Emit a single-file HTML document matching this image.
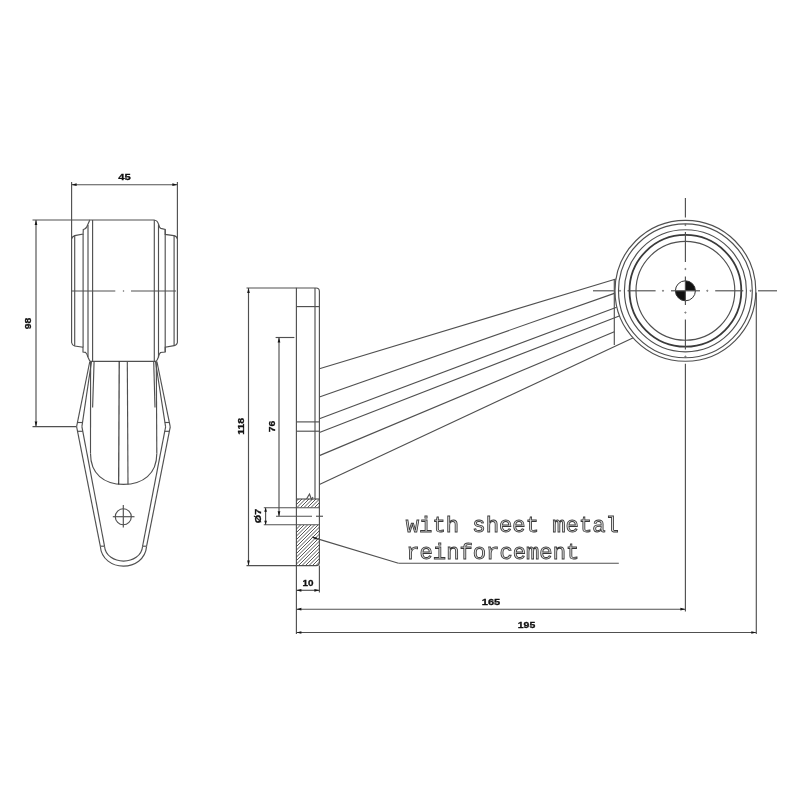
<!DOCTYPE html>
<html><head><meta charset="utf-8"><style>html,body{margin:0;padding:0;background:#fff;width:800px;height:800px;overflow:hidden}svg{display:block;will-change:transform}</style></head>
<body><svg width="800" height="800" viewBox="0 0 800 800"><rect width="800" height="800" fill="#fff"/><line x1="71.6" y1="182" x2="71.6" y2="239" stroke="#505050" stroke-width="1.15"/>
<line x1="177.4" y1="182" x2="177.4" y2="239" stroke="#505050" stroke-width="1.15"/>
<line x1="71.6" y1="184.7" x2="177.4" y2="184.7" stroke="#505050" stroke-width="1.15"/>
<polygon points="71.60,184.70 76.60,183.35 76.60,186.05" fill="#151515"/>
<polygon points="177.40,184.70 172.40,186.05 172.40,183.35" fill="#151515"/>
<line x1="32.5" y1="220" x2="90" y2="220" stroke="#505050" stroke-width="1.15"/>
<line x1="32.5" y1="426.6" x2="76.5" y2="426.6" stroke="#505050" stroke-width="1.15"/>
<line x1="36" y1="220" x2="36" y2="426.6" stroke="#505050" stroke-width="1.15"/>
<polygon points="36.00,220.00 37.35,225.00 34.65,225.00" fill="#151515"/>
<polygon points="36.00,426.60 34.65,421.60 37.35,421.60" fill="#151515"/>
<line x1="89.7" y1="220" x2="154.7" y2="220" stroke="#505050" stroke-width="1.15"/>
<line x1="89.9" y1="361.3" x2="156" y2="361.3" stroke="#505050" stroke-width="1.15"/>
<path d="M89.7,220.3 L87.6,225 Q86.2,229 83.3,229.5 L83.1,234 L74.7,235.6 Q72,236.5 71.6,239 L71.6,342.5 Q72,345.3 74.6,346 L83,347.3 L83,352 L85.5,352.4 Q87.2,354 87.9,357 L89.9,361.3" stroke="#505050" stroke-width="1.15" fill="none"/>
<path d="M154.7,220.3 Q157.5,220.6 158.6,224.4 Q159.5,228 160.8,228.4 L165.2,229.4 L165.2,234.4 L173.9,235.6 Q176.8,236.2 177.4,239 L177.4,342.5 Q176.8,345.2 174.2,345.6 L165.2,347.2 L165.2,352 L160.5,352.5 Q159,354 158.2,357.5 Q157.2,360.6 156,361.3" stroke="#505050" stroke-width="1.15" fill="none"/>
<line x1="74.7" y1="235.6" x2="74.7" y2="346" stroke="#505050" stroke-width="1.15"/>
<line x1="83.1" y1="234" x2="83.1" y2="347.3" stroke="#505050" stroke-width="1.15"/>
<line x1="88" y1="225" x2="88" y2="357" stroke="#505050" stroke-width="1.15"/>
<line x1="92.6" y1="220" x2="92.6" y2="361.3" stroke="#505050" stroke-width="1.15"/>
<line x1="154.3" y1="220" x2="154.3" y2="361.3" stroke="#505050" stroke-width="1.15"/>
<line x1="158.5" y1="224.4" x2="158.5" y2="357.5" stroke="#505050" stroke-width="1.15"/>
<line x1="165.2" y1="229.4" x2="165.2" y2="352" stroke="#505050" stroke-width="1.15"/>
<line x1="174.1" y1="235.6" x2="174.1" y2="345.6" stroke="#505050" stroke-width="1.15"/>
<line x1="71.8" y1="291" x2="115.3" y2="291" stroke="#505050" stroke-width="1.15"/>
<line x1="131" y1="291" x2="176" y2="291" stroke="#505050" stroke-width="1.15"/>
<circle cx="123.5" cy="291" r="0.5" stroke="#505050" stroke-width="0.6" fill="none"/>
<line x1="89.8" y1="361.5" x2="76.6" y2="426.6" stroke="#505050" stroke-width="1.15"/>
<line x1="91.5" y1="361.5" x2="81.9" y2="426.6" stroke="#505050" stroke-width="1.15"/>
<line x1="76.6" y1="426.6" x2="100.3" y2="546.2" stroke="#505050" stroke-width="1.15"/>
<line x1="81.9" y1="426.6" x2="104.5" y2="546.2" stroke="#505050" stroke-width="1.15"/>
<line x1="156.9" y1="361.5" x2="170.25" y2="426.8" stroke="#505050" stroke-width="1.15"/>
<line x1="155.5" y1="361.5" x2="165.6" y2="426.8" stroke="#505050" stroke-width="1.15"/>
<line x1="170.25" y1="426.8" x2="146.6" y2="546.2" stroke="#505050" stroke-width="1.15"/>
<line x1="165.6" y1="426.8" x2="142.6" y2="546.2" stroke="#505050" stroke-width="1.15"/>
<line x1="77.4" y1="422.5" x2="82.7" y2="422.5" stroke="#505050" stroke-width="1.15"/>
<line x1="77.6" y1="431.3" x2="82.8" y2="431.3" stroke="#505050" stroke-width="1.15"/>
<line x1="169.4" y1="422.5" x2="164.8" y2="422.5" stroke="#505050" stroke-width="1.15"/>
<line x1="169.3" y1="431.3" x2="164.7" y2="431.3" stroke="#505050" stroke-width="1.15"/>
<path d="M100.3,546.2 C102.5,572.7 144.2,572.7 146.6,546.4" stroke="#505050" stroke-width="1.15" fill="none"/>
<line x1="100.3" y1="546.2" x2="104.5" y2="546.2" stroke="#505050" stroke-width="1.15"/>
<line x1="142.5" y1="546.2" x2="146.6" y2="546.2" stroke="#505050" stroke-width="1.15"/>
<path d="M104.5,546.2 C106.3,566 140.8,566 142.6,546.2" stroke="#505050" stroke-width="1.15" fill="none"/>
<line x1="90.6" y1="361.3" x2="90.5" y2="453.5" stroke="#505050" stroke-width="1.15"/>
<line x1="94.1" y1="361.3" x2="92.6" y2="407.5" stroke="#505050" stroke-width="1.15"/>
<line x1="156.3" y1="361.3" x2="156.8" y2="453.5" stroke="#505050" stroke-width="1.15"/>
<line x1="153.7" y1="361.3" x2="155" y2="407.5" stroke="#505050" stroke-width="1.15"/>
<path d="M90.5,453.5 C90.5,474 104,484.4 123.5,484.4 C143,484.4 156.8,474 156.8,453.5" stroke="#505050" stroke-width="1.15" fill="none"/>
<line x1="119.2" y1="361.3" x2="118.7" y2="484.4" stroke="#2a2a2a" stroke-width="1.1"/>
<line x1="127.3" y1="361.3" x2="128" y2="484.4" stroke="#505050" stroke-width="1.15"/>
<circle cx="123.3" cy="516.7" r="8" stroke="#505050" stroke-width="1.15" fill="none"/>
<line x1="112.8" y1="516.7" x2="134.5" y2="516.7" stroke="#505050" stroke-width="1.15"/>
<line x1="123.3" y1="505" x2="123.3" y2="527.5" stroke="#505050" stroke-width="1.15"/>
<path d="M296.4,288 L316,288 Q319.4,288 319.4,291.4 L319.4,562.2 Q319.4,565.6 316,565.6 L296.4,565.6 Z" stroke="#505050" stroke-width="1.15" fill="none"/>
<line x1="315" y1="288" x2="315" y2="499" stroke="#505050" stroke-width="1.15"/>
<line x1="296.4" y1="306.6" x2="319.4" y2="306.6" stroke="#505050" stroke-width="1.15"/>
<line x1="296.4" y1="421.9" x2="319.4" y2="421.9" stroke="#505050" stroke-width="1.15"/>
<line x1="296.4" y1="431.2" x2="319.4" y2="431.2" stroke="#505050" stroke-width="1.15"/>
<line x1="296.4" y1="499" x2="319.4" y2="499" stroke="#505050" stroke-width="1.15"/>
<defs><clipPath id="hc"><rect x="296.4" y="499" width="23" height="8.6"/><path d="M296.4,525 L319.4,525 L319.4,562.2 Q319.4,565.6 316,565.6 L296.4,565.6 Z"/></clipPath></defs>
<path d="M180.00,600 L300.00,480 M183.50,600 L303.50,480 M187.00,600 L307.00,480 M190.50,600 L310.50,480 M194.00,600 L314.00,480 M197.50,600 L317.50,480 M201.00,600 L321.00,480 M204.50,600 L324.50,480 M208.00,600 L328.00,480 M211.50,600 L331.50,480 M215.00,600 L335.00,480 M218.50,600 L338.50,480 M222.00,600 L342.00,480 M225.50,600 L345.50,480 M229.00,600 L349.00,480 M232.50,600 L352.50,480 M236.00,600 L356.00,480 M239.50,600 L359.50,480 M243.00,600 L363.00,480 M246.50,600 L366.50,480 M250.00,600 L370.00,480 M253.50,600 L373.50,480 M257.00,600 L377.00,480 M260.50,600 L380.50,480 M264.00,600 L384.00,480 M267.50,600 L387.50,480 M271.00,600 L391.00,480 M274.50,600 L394.50,480 M278.00,600 L398.00,480 M281.50,600 L401.50,480 M285.00,600 L405.00,480 M288.50,600 L408.50,480 M292.00,600 L412.00,480 M295.50,600 L415.50,480 M299.00,600 L419.00,480 M302.50,600 L422.50,480 M306.00,600 L426.00,480 M309.50,600 L429.50,480 M313.00,600 L433.00,480 M316.50,600 L436.50,480 M320.00,600 L440.00,480 M323.50,600 L443.50,480 M327.00,600 L447.00,480 M330.50,600 L450.50,480 M334.00,600 L454.00,480 M337.50,600 L457.50,480 M341.00,600 L461.00,480 M344.50,600 L464.50,480 M348.00,600 L468.00,480 M351.50,600 L471.50,480 M355.00,600 L475.00,480 M358.50,600 L478.50,480 M362.00,600 L482.00,480 M365.50,600 L485.50,480 M369.00,600 L489.00,480 M372.50,600 L492.50,480 M376.00,600 L496.00,480 M379.50,600 L499.50,480 M383.00,600 L503.00,480 M386.50,600 L506.50,480" stroke="#444" stroke-width="0.9" clip-path="url(#hc)"/>
<line x1="263.8" y1="507.7" x2="319.4" y2="507.7" stroke="#505050" stroke-width="1.15"/>
<line x1="263.8" y1="524.7" x2="319.4" y2="524.7" stroke="#505050" stroke-width="1.15"/>
<path d="M306.5,499 L309.5,494 L311.5,499.5 L313,497" stroke="#505050" stroke-width="1.15" fill="none"/>
<line x1="276" y1="516.25" x2="312" y2="516.25" stroke="#505050" stroke-width="1.15"/>
<line x1="316" y1="516.25" x2="323" y2="516.25" stroke="#505050" stroke-width="1.15"/>
<line x1="246.5" y1="288" x2="296.4" y2="288" stroke="#505050" stroke-width="1.15"/>
<line x1="246.5" y1="565.6" x2="296.4" y2="565.6" stroke="#505050" stroke-width="1.15"/>
<line x1="248.5" y1="288" x2="248.5" y2="565.6" stroke="#505050" stroke-width="1.15"/>
<polygon points="248.50,288.00 249.85,293.00 247.15,293.00" fill="#151515"/>
<polygon points="248.50,565.60 247.15,560.60 249.85,560.60" fill="#151515"/>
<line x1="275.6" y1="337.5" x2="294.4" y2="337.5" stroke="#505050" stroke-width="1.15"/>
<line x1="279" y1="337.5" x2="279" y2="516.25" stroke="#505050" stroke-width="1.15"/>
<polygon points="279.00,337.50 280.35,342.50 277.65,342.50" fill="#151515"/>
<polygon points="279.00,516.25 277.65,511.25 280.35,511.25" fill="#151515"/>
<line x1="265.6" y1="507.7" x2="265.6" y2="524.7" stroke="#505050" stroke-width="1.15"/>
<polygon points="265.60,507.70 266.95,511.70 264.25,511.70" fill="#151515"/>
<polygon points="265.60,524.70 264.25,520.70 266.95,520.70" fill="#151515"/>
<line x1="296.4" y1="565.6" x2="296.4" y2="634" stroke="#505050" stroke-width="1.15"/>
<line x1="319.4" y1="565.6" x2="319.4" y2="592.5" stroke="#505050" stroke-width="1.15"/>
<line x1="296.4" y1="590.3" x2="319.4" y2="590.3" stroke="#505050" stroke-width="1.15"/>
<polygon points="296.40,590.30 301.40,588.95 301.40,591.65" fill="#151515"/>
<polygon points="319.40,590.30 314.40,591.65 314.40,588.95" fill="#151515"/>
<line x1="296.4" y1="609.2" x2="685.4" y2="609.2" stroke="#505050" stroke-width="1.15"/>
<polygon points="296.40,609.20 301.40,607.85 301.40,610.55" fill="#151515"/>
<polygon points="685.40,609.20 680.40,610.55 680.40,607.85" fill="#151515"/>
<line x1="685.4" y1="363.8" x2="685.4" y2="611.5" stroke="#505050" stroke-width="1.15"/>
<line x1="296.4" y1="632.5" x2="756.3" y2="632.5" stroke="#505050" stroke-width="1.15"/>
<polygon points="296.40,632.50 301.40,631.15 301.40,633.85" fill="#151515"/>
<polygon points="756.30,632.50 751.30,633.85 751.30,631.15" fill="#151515"/>
<line x1="756.3" y1="292.5" x2="756.3" y2="634" stroke="#505050" stroke-width="1.15"/>
<line x1="319.4" y1="368.7" x2="615.9" y2="279" stroke="#505050" stroke-width="1.15"/>
<line x1="319.4" y1="397" x2="614.3" y2="293.4" stroke="#505050" stroke-width="1.15"/>
<line x1="319.4" y1="418.75" x2="616.6" y2="307.2" stroke="#505050" stroke-width="1.15"/>
<line x1="319.4" y1="432.5" x2="619.2" y2="316" stroke="#505050" stroke-width="1.15"/>
<line x1="319.4" y1="455.6" x2="614.3" y2="331.75" stroke="#505050" stroke-width="1.15"/>
<line x1="319.4" y1="484.4" x2="632.8" y2="338" stroke="#505050" stroke-width="1.15"/>
<line x1="614.3" y1="279" x2="614.3" y2="344.9" stroke="#505050" stroke-width="1.15"/>
<circle cx="685.4" cy="290.8" r="70.4" stroke="#505050" stroke-width="1.15" fill="none"/>
<circle cx="685.4" cy="290.8" r="66.9" stroke="#505050" stroke-width="1.15" fill="none"/>
<circle cx="685.4" cy="290.8" r="61" stroke="#505050" stroke-width="1.15" fill="none"/>
<circle cx="685.4" cy="290.8" r="55.9" stroke="#3a3a3a" stroke-width="1.8" fill="none"/>
<circle cx="685.4" cy="290.8" r="49.4" stroke="#505050" stroke-width="1.15" fill="none"/>
<path d="M685.4,290.8 L685.4,280.8 A10,10 0 0 1 695.4,290.8 Z" fill="#111"/>
<path d="M685.4,290.8 L685.4,300.8 A10,10 0 0 1 675.4,290.8 Z" fill="#111"/>
<circle cx="685.4" cy="290.8" r="10" stroke="#333" stroke-width="1" fill="none"/>
<line x1="593" y1="290.8" x2="613.8" y2="290.8" stroke="#505050" stroke-width="1.15"/>
<line x1="627.5" y1="290.8" x2="655.6" y2="290.8" stroke="#505050" stroke-width="1.15"/>
<line x1="671" y1="290.8" x2="700" y2="290.8" stroke="#505050" stroke-width="1.15"/>
<line x1="715.2" y1="290.8" x2="743.3" y2="290.8" stroke="#505050" stroke-width="1.15"/>
<line x1="758" y1="290.8" x2="777" y2="290.8" stroke="#505050" stroke-width="1.15"/>
<circle cx="620" cy="290.8" r="0.6" stroke="#505050" stroke-width="0.8" fill="none"/>
<circle cx="663" cy="290.8" r="0.6" stroke="#505050" stroke-width="0.8" fill="none"/>
<circle cx="707.3" cy="290.8" r="0.6" stroke="#505050" stroke-width="0.8" fill="none"/>
<circle cx="750.6" cy="290.8" r="0.6" stroke="#505050" stroke-width="0.8" fill="none"/>
<line x1="685.4" y1="198" x2="685.4" y2="217.5" stroke="#505050" stroke-width="1.15"/>
<line x1="685.4" y1="232" x2="685.4" y2="262" stroke="#505050" stroke-width="1.15"/>
<line x1="685.4" y1="276.5" x2="685.4" y2="305" stroke="#505050" stroke-width="1.15"/>
<line x1="685.4" y1="319.6" x2="685.4" y2="349.6" stroke="#505050" stroke-width="1.15"/>
<circle cx="685.4" cy="225" r="0.6" stroke="#505050" stroke-width="0.8" fill="none"/>
<circle cx="685.4" cy="269" r="0.6" stroke="#505050" stroke-width="0.8" fill="none"/>
<circle cx="685.4" cy="312.6" r="0.6" stroke="#505050" stroke-width="0.8" fill="none"/>
<circle cx="685.4" cy="356.6" r="0.6" stroke="#505050" stroke-width="0.8" fill="none"/>
<line x1="311.9" y1="537.1" x2="398.5" y2="563.25" stroke="#505050" stroke-width="1.15"/>
<polygon points="311.90,537.10 317.03,537.40 316.34,539.69" fill="#151515"/>
<line x1="398.5" y1="563.25" x2="618.8" y2="563.25" stroke="#505050" stroke-width="1.15"/>
<text x="124.5" y="180.3" font-family="Liberation Sans" font-weight="bold" font-size="9" text-anchor="middle" textLength="12.5" lengthAdjust="spacingAndGlyphs" fill="#111" stroke="#111" stroke-width="0.3" >45</text>
<text x="308" y="585.9" font-family="Liberation Sans" font-weight="bold" font-size="9" text-anchor="middle" textLength="11" lengthAdjust="spacingAndGlyphs" fill="#111" stroke="#111" stroke-width="0.3" >10</text>
<text x="491" y="605.2" font-family="Liberation Sans" font-weight="bold" font-size="9" text-anchor="middle" textLength="18.5" lengthAdjust="spacingAndGlyphs" fill="#111" stroke="#111" stroke-width="0.3" >165</text>
<text x="526.5" y="627.9" font-family="Liberation Sans" font-weight="bold" font-size="9" text-anchor="middle" textLength="17.5" lengthAdjust="spacingAndGlyphs" fill="#111" stroke="#111" stroke-width="0.3" >195</text>
<text x="244.3" y="426.3" font-family="Liberation Sans" font-weight="bold" font-size="9" text-anchor="middle" textLength="17" lengthAdjust="spacingAndGlyphs" transform="rotate(-90 244.3 426.3)" fill="#111" stroke="#111" stroke-width="0.3" >118</text>
<text x="275.1" y="426.5" font-family="Liberation Sans" font-weight="bold" font-size="9" text-anchor="middle" textLength="11.5" lengthAdjust="spacingAndGlyphs" transform="rotate(-90 275.1 426.5)" fill="#111" stroke="#111" stroke-width="0.3" >76</text>
<text x="31.3" y="323.5" font-family="Liberation Sans" font-weight="bold" font-size="9" text-anchor="middle" textLength="11.5" lengthAdjust="spacingAndGlyphs" transform="rotate(-90 31.3 323.5)" fill="#111" stroke="#111" stroke-width="0.3" >98</text>
<text x="261.2" y="515.9" font-family="Liberation Sans" font-weight="bold" font-size="9" text-anchor="middle" textLength="14.5" lengthAdjust="spacingAndGlyphs" transform="rotate(-90 261.2 515.9)" fill="#111" stroke="#111" stroke-width="0.3" >&#216;7</text>
<text x="405.8" y="532.1" font-family="Liberation Mono" font-size="22.2" fill="#dedede" stroke="#383838" stroke-width="0.85">with sheet metal</text>
<text x="406.2" y="558.5" font-family="Liberation Mono" font-size="22.2" fill="#dedede" stroke="#383838" stroke-width="0.85">reinforcement</text></svg></body></html>
